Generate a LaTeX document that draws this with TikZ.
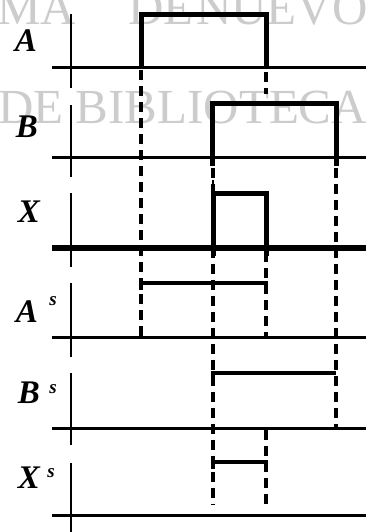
\documentclass[tikz,border=0pt]{standalone}
\usepackage{fontspec}
\setmainfont{Liberation Serif}
\begin{document}
\begin{tikzpicture}[x=1pt,y=-1pt,
  wmark/.style={text=black!20,font=\fontsize{49}{50}\selectfont,inner sep=0pt,anchor=base west},
  lbl/.style={font=\fontsize{33}{34}\selectfont\bfseries\itshape,inner sep=0pt,anchor=base},
  sup/.style={font=\fontsize{19}{20}\selectfont\bfseries\itshape,inner sep=0pt,anchor=base},
  axis/.style={line width=2.8pt},
  base/.style={line width=3pt},
  pulse/.style={line width=5pt,line join=miter},
  guide/.style={line width=3.6pt,dash pattern=on 10pt off 6pt}]
\useasboundingbox (0,0) rectangle (366,532);
\fill[white] (0,0) rectangle (366,532);
% watermark
\node[wmark] (w1) at (-3,25) {MA};
\node[wmark] (w2) at (128,25) {DE};
\node[wmark] (w3) at (196,25) {NUEVO};
\node[wmark] (w4) at (-2,124) {DE BIBLIOTECA};
% labels
\node[lbl] (lA) at (26,52) {A};
\node[lbl] (lB) at (27,137) {B};
\node[lbl] (lX) at (29,222) {X};
\node[lbl] (lAs) at (27,322) {A};
\node[sup] (sAs) at (53,305) {s};
\node[lbl] (lBs) at (29,403) {B};
\node[sup] (sBs) at (53,393) {s};
\node[lbl] (lXs) at (29,488) {X};
\node[sup] (sXs) at (51,477) {s};
% axes
\draw[axis] (71,14) -- (71,88);
\draw[base] (52,68) -- (366,68);
\draw[axis] (71,105) -- (71,177);
\draw[base] (52,157) -- (366,157);
\draw[axis] (71,193) -- (71,267);
\draw[line width=5.5pt] (52,248) -- (366,248);
\draw[axis] (71,283) -- (71,357);
\draw[base] (52,337) -- (366,337);
\draw[axis] (71,373) -- (71,445);
\draw[base] (52,428) -- (366,428);
\draw[axis] (71,463) -- (71,532);
\draw[base] (52,515) -- (366,515);
% dashed guides
\draw[guide] (141,70) -- (141,337);
\draw[guide] (213,168) -- (213,505);
\draw[guide] (266,72) -- (266,94);
\draw[guide] (266,252) -- (266,337);
\draw[guide] (266,430) -- (266,508);
\draw[guide] (336,168) -- (336,428);
% pulses
\draw[pulse] (141,68) -- (141,15) -- (266,15) -- (266,68);
\draw[pulse] (212,166) -- (212,104) -- (336,104) -- (336,166);
\draw[pulse] (213,256) -- (213,193) -- (266,193) -- (266,256);
\draw[line width=2pt] (213,180) -- (213,193);
\draw[pulse,line width=4.5pt] (141,290) -- (141,283) -- (266,283) -- (266,289);
\draw[pulse,line width=4.5pt] (213,380) -- (213,373) -- (336,373);
\draw[pulse,line width=4.5pt] (213,469) -- (213,462) -- (266,462) -- (266,468);
\end{tikzpicture}
\end{document}
